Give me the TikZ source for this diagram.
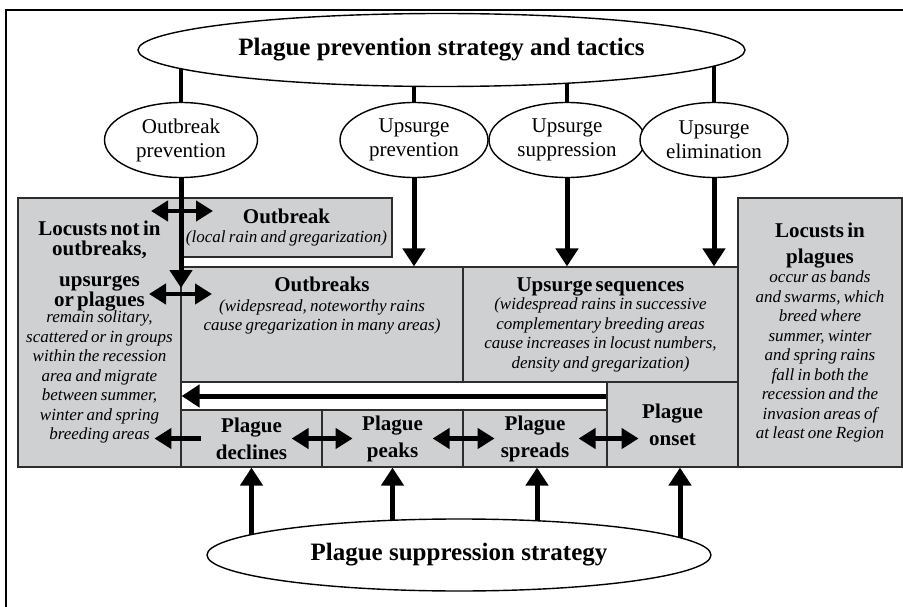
\documentclass[tikz,border=0pt]{standalone}
\usepackage{fontspec}
\setmainfont{Liberation Serif}
\usetikzlibrary{arrows.meta, positioning, shapes.geometric, backgrounds}
\definecolor{boxgray}{RGB}{206,208,210}
\definecolor{boxedge}{RGB}{45,45,45}
\newcommand{\titlefont}{\fontsize{25}{28}\selectfont\bfseries}
\newcommand{\headfont}{\fontsize{21}{20}\selectfont\bfseries}
\newcommand{\notefont}{\fontsize{17}{19.5}\selectfont\itshape}

\begin{document}
\begin{tikzpicture}[x=1pt, y=-1pt,
  stage/.style={draw=boxedge, line width=1.2pt, fill=boxgray, inner xsep=0pt, inner ysep=2pt, align=center},
  tactic/.style={ellipse, draw, line width=1.4pt, fill=white, inner sep=0pt, minimum height=75pt, font=\fontsize{21}{24}\selectfont, align=center},
  strategy/.style={ellipse, draw, line width=1.4pt, fill=white, inner sep=0pt, minimum height=73pt, font=\titlefont},
  link/.style={line width=4.5pt},
  arr/.style={-{Triangle[length=18pt, width=22pt]}, line width=5pt},
  sidearr/.style={-{Triangle[length=17pt, width=20pt]}, line width=4.5pt},
  dblarr/.style={{Triangle[length=17pt, width=20pt]}-{Triangle[length=17pt, width=20pt]}, line width=4.5pt}
]
\useasboundingbox (0,0) rectangle (903,607);
\draw[line width=2pt] (6,607) -- (6,10) -- (903,10);

\node[strategy, minimum width=607pt] (prevent) at (441.5,50) {Plague prevention strategy and tactics};
\node[tactic, minimum width=153pt] (obprev) at (181,140) {Outbreak\\prevention};
\node[tactic, minimum width=148pt] (upprev) at (414,140) {Upsurge\\prevention};
\node[tactic, minimum width=156pt] (upsupp) at (567,140) {Upsurge\\suppression};
\node[tactic, minimum width=148pt] (upelim) at (714,140) {Upsurge\\elimination};
\node[strategy, minimum width=504pt, minimum height=72pt] (supp) at (459,555) {Plague suppression strategy};

\node[stage, minimum width=163pt, minimum height=269pt, text width=163pt] (quiet) at (99.5,332.5)
  {{\headfont Locusts not in\\ outbreaks,\\[11pt] upsurges\\ or plagues\par}\vspace{-3.5pt}
   {\notefont remain solitary,\\ scattered or in groups\\ within the recession\\ area and migrate\\
    between summer,\\ winter and spring\\ breeding areas\par}};
\node[stage, minimum width=164pt, minimum height=269pt, text width=164pt] (plagues) at (820,332.5)
  {{\headfont Locusts in\\[6pt] plagues\par}
   {\notefont occur as bands\\ and swarms, which\\ breed where\\ summer, winter\\ and spring rains\\
    fall in both the\\ recession and the\\ invasion areas of\\ at least one Region\par}};
\node[stage, minimum width=211pt, minimum height=59pt, text width=211pt] (outbreak) at (286.5,227.5)
  {{\headfont Outbreak\par}{\notefont (local rain and gregarization)\par}};
\node[stage, minimum width=282pt, minimum height=115pt] (outbreaks) at (322,324.5) {};
\node[anchor=north, align=center, text width=282pt, inner sep=0pt] (outbreakstxt) at ([yshift=-10.5pt]outbreaks.north)
  {{\headfont Outbreaks\par}{\notefont (widepsread, noteworthy rains\\ cause gregarization in many areas)\par}};
\node[stage, minimum width=275pt, minimum height=115pt, text width=275pt] (upseq) at (600.5,324.5)
  {{\headfont Upsurge sequences\par}\vspace{-1pt}
   {\notefont (widespread rains in successive\\ complementary breeding areas\\
    cause increases in locust numbers,\\ density and gregarization)\par}};
\node[stage, minimum width=131pt, minimum height=85pt, text width=131pt, font=\headfont] (onset) at (672.5,424.5) {Plague\\[7pt] onset};
\node[stage, minimum width=141pt, minimum height=57pt, text width=141pt, font=\headfont] (declines) at (251.5,438.5) {Plague\\[7pt] declines};
\node[stage, minimum width=141pt, minimum height=57pt, text width=141pt, font=\headfont] (peaks) at (392.5,438.5) {Plague\\[7pt] peaks};
\node[stage, minimum width=144pt, minimum height=57pt, text width=144pt, font=\headfont] (spreads) at (535,438.5) {Plague\\[7pt] spreads};

\begin{scope}[on background layer]
  \foreach \t in {obprev, upprev, upsupp, upelim}
    \draw[link] (\t.north) -- (\t.north |- prevent.center);
  \foreach \b/\dx in {declines/0, peaks/0, spreads/2, onset/7.5}
    \draw[arr] ([xshift=\dx pt]\b.south |- supp.center) -- ([xshift=\dx pt]\b.south);
\end{scope}

\coordinate (obtip) at (181,288);
\coordinate (stripy) at (0,396);
\coordinate (upa) at (151,211);
\coordinate (upb) at (213,211);
\coordinate (lowa) at (149,294);
\coordinate (lowb) at (212,294);

\draw[arr] (obprev) -- (obtip);
\draw[arr] (upprev) -- (upprev |- outbreaks.north);
\draw[arr] (upsupp) -- (upsupp |- upseq.north);
\draw[arr] (upelim) -- (upelim |- upseq.north);
\draw[arr] (onset.west |- stripy) -- (quiet.east |- stripy);
\draw[dblarr] (upa) -- (upb);
\draw[dblarr] (lowa) -- (lowb);
\draw[sidearr] ([xshift=21pt]declines.west) -- ([xshift=-26pt]declines.west);
\draw[dblarr] ([xshift=-31pt]declines.east) -- ([xshift=30pt]declines.east);
\draw[dblarr] ([xshift=-31pt]peaks.east) -- ([xshift=31pt]peaks.east);
\draw[dblarr] ([xshift=-29pt]spreads.east) -- ([xshift=31pt]spreads.east);
\end{tikzpicture}
\end{document}
